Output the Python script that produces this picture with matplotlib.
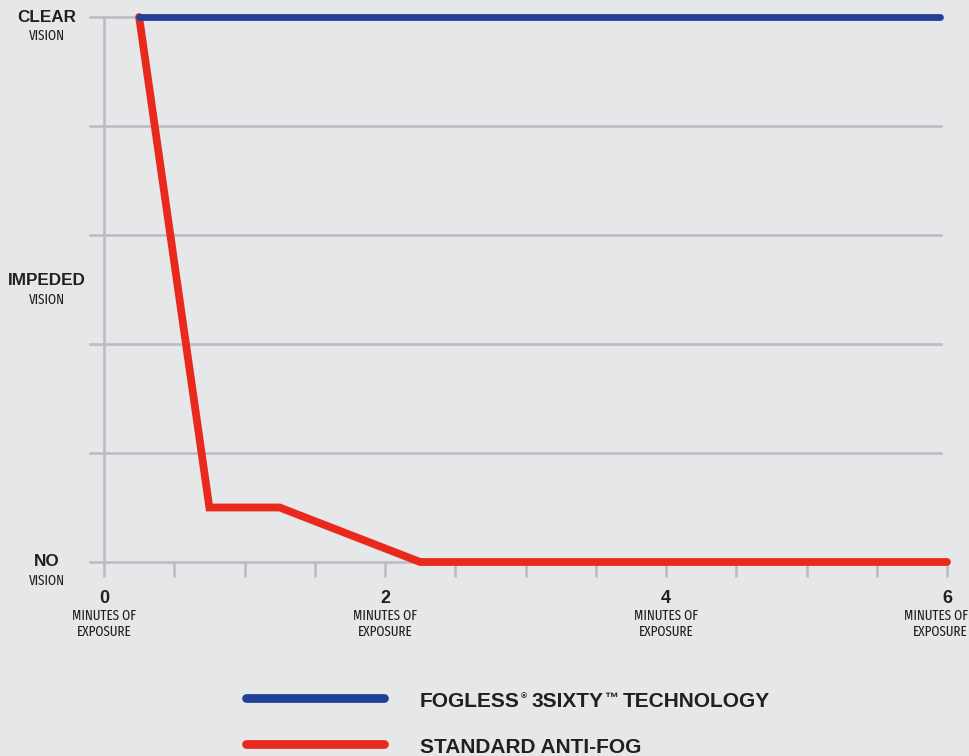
import os
import numpy as np
import matplotlib
matplotlib.use("Agg")
import matplotlib.pyplot as plt
from matplotlib import font_manager as fm
from matplotlib.lines import Line2D

# data
minutes_fogless = [0.25, 5.95]
vision_fogless = [5, 5]
minutes_standard = [0.25, 0.75, 1.25, 2.25, 6]
vision_standard = [5, 0.5, 0.5, 0, 0]

vision_levels = [5, 2.58, 0]
vision_names = ["CLEAR", "IMPEDED", "NO"]
grid_levels = [0, 1, 2, 3, 4, 5]
minute_labels = [0, 2, 4, 6]
legend_fogless = ["FOGLESS", "®", "3SIXTY", "™", "TECHNOLOGY"]
legend_standard = "STANDARD ANTI-FOG"

bg = "#e6e7e8"
grid_col = "#bcbdc0"
blue = "#22409a"
red = "#e8291c"
ink = "#231f20"
bold_font = ["Liberation Sans", "DejaVu Sans"]


# look for a condensed face for the small captions
def find_narrow():
    best = None
    for f in fm.fontManager.ttflist:
        base = os.path.basename(f.fname).lower()
        txt = (f.name + " " + base).lower()
        if not ("condensed" in txt or "narrow" in txt or "cond" in base):
            continue
        if f.style != "normal":
            continue
        w = f.weight if isinstance(f.weight, int) else fm.weight_dict.get(f.weight, 400)
        score = abs(w - 400)
        if "semi" in txt:
            score += 50
        if "extra" in txt or "ultra" in txt:
            score -= 30
        if best is None or score < best[0]:
            best = (score, f.fname)
    if best:
        return fm.FontProperties(fname=best[1]), True
    return fm.FontProperties(family="Liberation Sans"), False


narrow_prop, is_narrow = find_narrow()
cap_size = 10.2 if is_narrow else 7.2

W, H = 969, 756
fig = plt.figure(figsize=(W / 100, H / 100), dpi=100)
fig.patch.set_facecolor(bg)
ax = fig.add_axes([104 / W, 1 - 562 / H, (947 - 104) / W, 545 / H])
ax.set_facecolor(bg)
ax.set_xlim(0, 6)
ax.set_ylim(0, 5)

for s in ["top", "right", "bottom"]:
    ax.spines[s].set_visible(False)
ax.spines["left"].set_color(grid_col)
ax.spines["left"].set_linewidth(1.9)
ax.spines["left"].set_zorder(1)

# horizontal grid
for lvl in grid_levels:
    ax.plot([-0.1, 5.96], [lvl, lvl], color=grid_col, lw=1.9, clip_on=False, zorder=1)

ax.set_xticks(np.arange(0, 6.01, 0.5))
ax.tick_params(axis="x", length=10.8, width=1.9, color=grid_col, labelbottom=False)
ax.set_yticks([])

# series
ax.plot(minutes_standard, vision_standard, color=red, lw=5.6, solid_capstyle="round",
        solid_joinstyle="miter", clip_on=False, zorder=3)
ax.plot(minutes_fogless, vision_fogless, color=blue, lw=4.9, solid_capstyle="round",
        clip_on=False, zorder=4)

# y labels
for lvl, name in zip(vision_levels, vision_names):
    ax.annotate(name, xy=(0, lvl), xytext=(-41, 0), textcoords="offset points",
                ha="center", va="center", fontsize=12.3, fontweight="bold",
                family=bold_font, color=ink, annotation_clip=False)
    ax.annotate("VISION", xy=(0, lvl), xytext=(-41, -13.7), textcoords="offset points",
                ha="center", va="center", fontproperties=narrow_prop, fontsize=cap_size,
                color=ink, annotation_clip=False)

# x labels
for m in minute_labels:
    ax.annotate(str(m), xy=(m, 0), xytext=(0, -26), textcoords="offset points",
                ha="center", va="center", fontsize=13, fontweight="bold",
                family=bold_font, color=ink, annotation_clip=False)
    # last caption is pushed against the right edge so it stays inside
    if m == minute_labels[-1]:
        ha, dx = "right", 968 - 947
    else:
        ha, dx = "center", 0
    ax.annotate("MINUTES OF", xy=(m, 0), xytext=(dx * 0.72, -38.5), textcoords="offset points",
                ha=ha, va="center", fontproperties=narrow_prop, fontsize=cap_size,
                color=ink, annotation_clip=False)
    ax.annotate("EXPOSURE", xy=(m, 0), xytext=(dx * 0.72, -50.2), textcoords="offset points",
                ha=ha, va="center", fontproperties=narrow_prop, fontsize=cap_size,
                color=ink, annotation_clip=False)

# legend
for y_px, col in [(698, blue), (744, red)]:
    fig.add_artist(Line2D([246 / W, 384 / W], [1 - y_px / H] * 2, color=col, lw=6.3,
                          solid_capstyle="round", transform=fig.transFigure))

# first legend entry is built piece by piece, each one placed after the previous
base_px = 707
sizes = [15, 6, 15, 10, 15]
lifts = [0, 9, 0, 5, 0]
gaps = [0, 1, 5, 0.5, 4]
x_px = 420
fig.canvas.draw()
renderer = fig.canvas.get_renderer()
for txt, fs, lift, gap in zip(legend_fogless, sizes, lifts, gaps):
    x_px += gap
    t = fig.text(x_px / W, 1 - (base_px - lift) / H, txt, fontsize=fs, fontweight="bold",
                 family=bold_font, color=ink, va="baseline", ha="left")
    x_px = t.get_window_extent(renderer).x1

fig.text(420 / W, 1 - 753 / H, legend_standard, fontsize=15, fontweight="bold",
         family=bold_font, color=ink, va="baseline")

fig.savefig("out.png", dpi=100, facecolor=bg)
